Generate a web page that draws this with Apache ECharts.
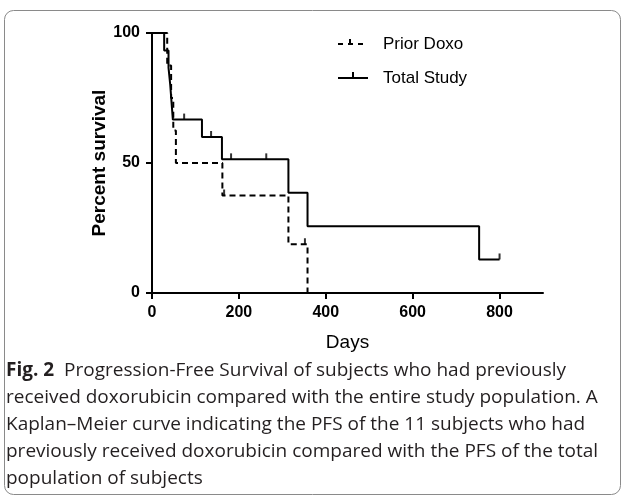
<!DOCTYPE html>
<html>
<head>
<meta charset="utf-8">
<script src="https://cdn.jsdelivr.net/npm/echarts@6/dist/echarts.min.js"></script>
<style>html,body{margin:0;padding:0;background:#fff;}#c{width:624px;height:498px;}</style>
</head>
<body>
<div id="c"></div>
<script>
// ---- data ----
const xTicks = [0, 200, 400, 600, 800];
const yTicks = [0, 50, 100];
const priorDoxoDays = [0, 35, 44, 49, 55, 162, 314, 358];
const priorDoxoSurv = [100, 87.5, 75, 62.5, 50, 37.5, 18.75, 0];
const totalDays = [0, 28, 38, 42, 45, 48, 115, 161, 314, 358, 753, 800];
const totalSurv = [100, 93.3, 86.7, 80, 73.3, 66.7, 60, 51.4, 38.6, 25.7, 12.9, 12.9];
const totalCensorDays = [74, 136, 182, 263, 800];
const totalCensorSurv = [66.7, 60, 51.4, 51.4, 12.9];
const priorCensorDays = [166, 352];
const priorCensorSurv = [37.5, 18.75];
const seriesNames = ['Prior Doxo', 'Total Study'];
const captionLines = [
  '{b|Fig. 2}  Progression-Free Survival of subjects who had previously',
  'received doxorubicin compared with the entire study population. A',
  'Kaplan\u2013Meier curve indicating the PFS of the 11 subjects who had',
  'previously received doxorubicin compared with the PFS of the total',
  'population of subjects'
];

const zip = (a, b) => a.map((v, i) => [v, b[i]]);
const chart = echarts.init(document.getElementById('c'), null, {renderer: 'canvas'});

const capFont = '"Open Sans", sans-serif';
const graphics = [
  {type: 'rect', shape: {x: 4.5, y: 10.5, width: 616, height: 484, r: 9},
   style: {fill: 'none', stroke: '#8a8a8a', lineWidth: 1}, silent: true},
  // legend
  {type: 'line', shape: {x1: 338, y1: 44, x2: 367, y2: 44},
   style: {stroke: '#000', lineWidth: 2, lineDash: [5, 5]}},
  {type: 'line', shape: {x1: 350, y1: 44, x2: 350, y2: 39}, style: {stroke: '#000', lineWidth: 2}},
  {type: 'text', x: 383, y: 44, style: {text: seriesNames[0], font: '17px "Liberation Sans", Arial, sans-serif', fill: '#000', verticalAlign: 'middle'}},
  {type: 'line', shape: {x1: 338, y1: 78, x2: 368, y2: 78}, style: {stroke: '#000', lineWidth: 2}},
  {type: 'line', shape: {x1: 353, y1: 78, x2: 353, y2: 72}, style: {stroke: '#000', lineWidth: 2}},
  {type: 'text', x: 383, y: 78, style: {text: seriesNames[1], font: '17px "Liberation Sans", Arial, sans-serif', fill: '#000', verticalAlign: 'middle'}}
];
captionLines.forEach((t, i) => {
  graphics.push({type: 'text', x: 6, y: 371 + i * 27, style: {
    text: t, fontFamily: capFont, fontSize: 19, fill: '#231f20', verticalAlign: 'middle',
    rich: {b: {fontFamily: capFont, fontSize: 19, fontWeight: 'bold', fill: '#231f20'}}
  }});
});

const censorSymbol = {type: 'scatter', symbol: 'rect', symbolSize: [2, 6], symbolOffset: [0, -3],
  itemStyle: {color: '#000'}, z: 4};

chart.setOption({
  animation: false,
  backgroundColor: '#fff',
  grid: {left: 152, top: 33, right: 81, bottom: 205},
  xAxis: {
    type: 'value', min: 0, max: 900, interval: 200,
    name: 'Days', nameLocation: 'middle', nameGap: 40,
    nameTextStyle: {fontFamily: '"Liberation Sans", Arial', fontSize: 19, color: '#000'},
    axisLine: {lineStyle: {color: '#000', width: 2}},
    axisTick: {length: 6, lineStyle: {color: '#000', width: 2}, customValues: xTicks},
    axisLabel: {customValues: xTicks, margin: 12, fontFamily: '"Liberation Sans", Arial', fontWeight: 'bold', fontSize: 16, color: '#000'},
    splitLine: {show: false}
  },
  yAxis: {
    type: 'value', min: 0, max: 100, interval: 50,
    name: 'Percent survival', nameLocation: 'middle', nameGap: 43, nameRotate: 90,
    nameMoveOverlap: false,
    nameTextStyle: {fontFamily: '"Liberation Sans", Arial', fontWeight: 'bold', fontSize: 19, color: '#000'},
    axisLine: {show: true, lineStyle: {color: '#000', width: 2}},
    axisTick: {show: true, length: 6, lineStyle: {color: '#000', width: 2}, customValues: yTicks},
    axisLabel: {customValues: yTicks, margin: 12, fontFamily: '"Liberation Sans", Arial', fontWeight: 'bold', fontSize: 16, color: '#000'},
    splitLine: {show: false}
  },
  series: [
    {name: seriesNames[0], type: 'line', step: 'end', data: zip(priorDoxoDays, priorDoxoSurv),
     showSymbol: false, lineStyle: {color: '#000', width: 2, type: [6, 4]}, z: 3},
    {name: seriesNames[1], type: 'line', step: 'end', data: zip(totalDays, totalSurv),
     showSymbol: false, lineStyle: {color: '#000', width: 2}, z: 3},
    Object.assign({name: seriesNames[0] + ' censored', data: zip(priorCensorDays, priorCensorSurv)}, censorSymbol),
    Object.assign({name: seriesNames[1] + ' censored', data: zip(totalCensorDays, totalCensorSurv)}, censorSymbol)
  ],
  graphic: graphics
});
</script>
</body>
</html>
